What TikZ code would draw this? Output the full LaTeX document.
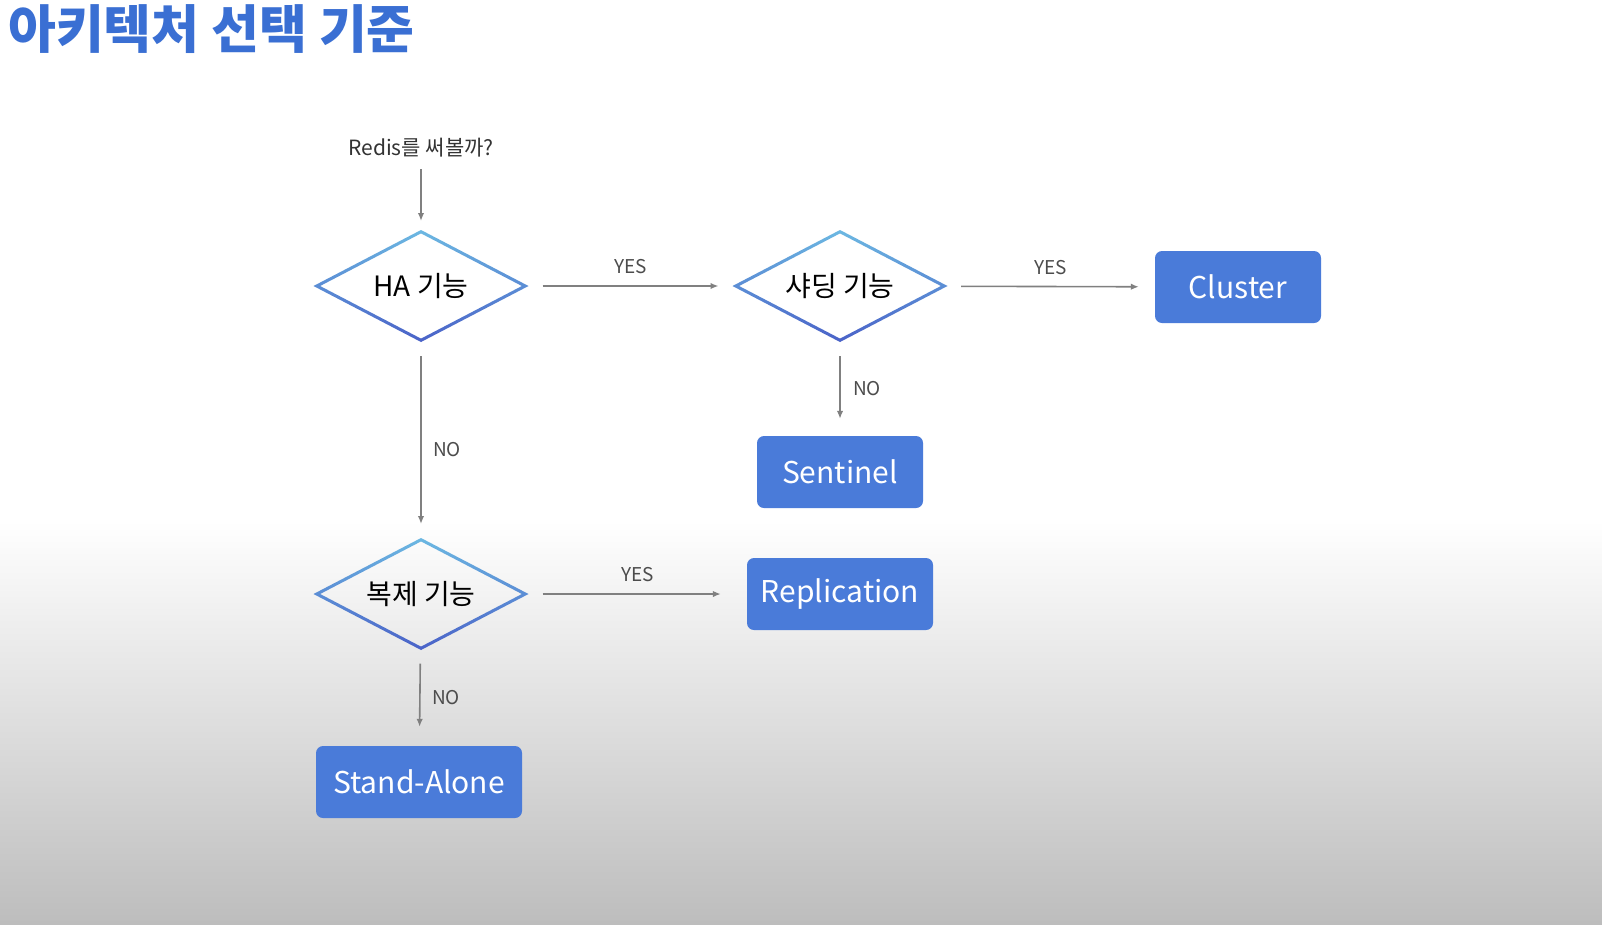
\documentclass[tikz,border=0pt]{standalone}
\usepackage{fontspec}
\setmainfont{Noto Sans CJK KR}
\usepackage{xcolor}
\usetikzlibrary{shapes.geometric, arrows.meta, calc}
\definecolor{titleblue}{HTML}{3A6FD3}
\definecolor{boxblue}{HTML}{4A7BD9}
\definecolor{diatop}{HTML}{6CB8E2}
\definecolor{diabot}{HTML}{4A62C8}
\definecolor{linkgray}{HTML}{808080}
\definecolor{bgbottom}{HTML}{BDBDBD}
\newcommand{\ringshade}[1]{%
  \shade[top color=diatop, bottom color=diabot, even odd rule]
    (#1.north) -- (#1.east) -- (#1.south) -- (#1.west) -- cycle
    ($(#1.north)+(0pt,-3.4pt)$) -- ($(#1.east)+(-6.6pt,0pt)$)
    -- ($(#1.south)+(0pt,3.4pt)$) -- ($(#1.west)+(6.6pt,0pt)$) -- cycle;}

\begin{document}
\begin{tikzpicture}[x=1pt, y=-1pt,
  decision/.style={diamond, aspect=2, minimum width=215pt, minimum height=112pt,
                   inner sep=0pt, outer sep=0pt, font=\fontsize{28}{32}\selectfont},
  result/.style={fill=boxblue, minimum width=#1, minimum height=72pt, inner sep=0pt,
                 rounded corners=7pt, text=white, font=\fontsize{30}{35}\selectfont},
  link/.style={draw=linkgray, line width=1.6pt, -{Latex[length=8pt,width=6.5pt]},
               shorten <=14pt, shorten >=14pt},
  lbl/.style={font=\fontsize{19}{22}\selectfont, text=black!70},
]
% background
\fill[white] (0,0) rectangle (1602,520);
\shade[top color=white, bottom color=bgbottom] (0,520) rectangle (1602,924);
\useasboundingbox (0,0) rectangle (1602,924);

\node[anchor=west, inner sep=0pt, text=titleblue, font=\fontsize{52}{60}\selectfont\bfseries]
  (title) at (8,29) {아키텍처 선택 기준};

\node[font=\fontsize{21}{24}\selectfont, text=black!80] (start) at (421,148) {Redis를 써볼까?};

\node[decision] (ha)    at (421,286) {HA 기능};
\node[decision] (shard) at (840,286) {샤딩 기능};
\node[decision] (repl)  at (421,594) {복제 기능};
\ringshade{ha}
\ringshade{shard}
\ringshade{repl}

\node[result=166pt] (cluster)  at (1238,287) {Cluster};
\node[result=166pt] (sentinel) at (840,472)  {Sentinel};
\node[result=186pt] (replica)  at (840,594)  {Replication};
\node[result=206pt] (alone)    at (419,782)  {Stand-Alone};

\draw[link, shorten <=8pt, shorten >=9pt] (start) -- (ha);
\draw[link] (ha) -- node[lbl, above=8pt] {YES} (shard);
\draw[link, shorten >=16pt] (shard) -- node[lbl, above=8pt] {YES} (cluster);
\draw[link, shorten <=14pt, shorten >=17pt] (shard) -- node[lbl, right=9pt] {NO} (sentinel);
\draw[link, shorten <=14pt] (ha) -- node[lbl, right=8pt, pos=0.55] {NO} (repl);
\draw[link, shorten >=26pt] (repl) -- node[lbl, above=8pt] {YES} (replica);
\draw[link, shorten <=14pt, shorten >=19pt] (repl) -- node[lbl, right=8pt] {NO} (alone);
\end{tikzpicture}
\end{document}
